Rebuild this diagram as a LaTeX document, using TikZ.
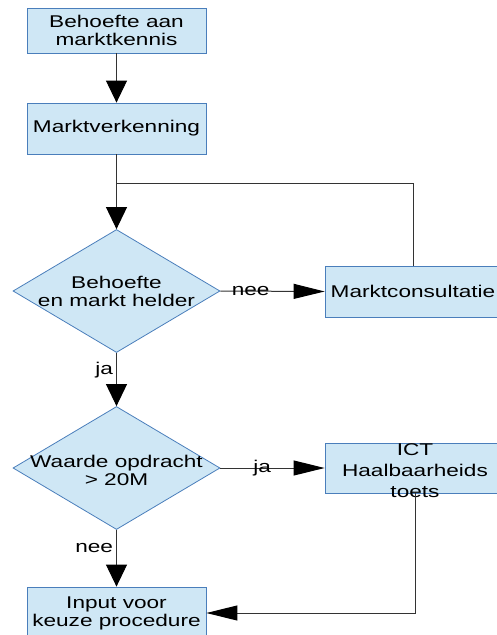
\documentclass[tikz,border=0pt]{standalone}
\usepackage{fontspec}
\setmainfont{Liberation Sans}[FakeStretch=1.33]
\usetikzlibrary{shapes.geometric,arrows.meta}
\definecolor{boxfill}{HTML}{CFE7F5}
\definecolor{boxline}{HTML}{4A7EBB}
\definecolor{wire}{HTML}{333333}

\begin{document}
\begin{tikzpicture}[x=1pt,y=-1pt,font=\fontsize{17}{18}\selectfont]
\tikzstyle{box} = [draw=boxline, fill=boxfill, line width=0.8pt, minimum width=179pt, inner sep=0pt, align=center];
\tikzstyle{choice} = [diamond, draw=boxline, fill=boxfill, line width=0.8pt, minimum width=207pt, minimum height=123pt, inner sep=0pt];
\tikzstyle{conn} = [draw=wire, line width=1pt];
\tikzstyle{varrow} = [conn, -{Triangle[length=22pt,width=21pt,color=black]}];
\tikzstyle{harrow} = [conn, -{Triangle[length=31pt,width=15pt,color=black]}];
\tikzstyle{lbl} = [inner sep=3pt];

\useasboundingbox (0,0) rectangle (497,635);

\node[box, minimum height=45pt] (kennis) at (116.5,30.5) {Behoefte aan\\marktkennis};
\node[box, minimum height=51pt] (verkenning) at (116.5,128.5) {Marktverkenning};
\node[choice, label={[align=center]center:{Behoefte\\en markt helder}}] (helder) at (116.5,291) {};
\node[box, minimum width=176pt, minimum height=51pt] (consult) at (413,291.5) {Marktconsultatie};
\node[choice, label={[align=center, yshift=-2pt]center:{Waarde opdracht\\> 20M}}] (waarde) at (116.5,468) {};
\node[box, minimum width=180pt, minimum height=50pt,
  label={[align=center, font=\fontsize{17}{21}\selectfont, yshift=-3pt]center:{ICT\\Haalbaarheids\\toets}}] (ict) at (415,468) {};
\node[box, minimum height=52pt] (input) at (116.5,613) {Input voor\\keuze procedure};
\coordinate (join) at (116.5,183);

\draw[varrow] (kennis) -- (verkenning);
\draw[varrow] (verkenning) -- (helder);
\draw[conn] (consult.north) |- (join);
\draw[harrow] (helder.east) -- node[lbl, pos=0.29] {nee} (consult.west);
\draw[varrow] (helder.south) -- node[lbl, left, pos=0.33] {ja} (waarde.north);
\draw[harrow] (waarde.east) -- node[lbl, pos=0.40] {ja} (ict.west);
\draw[varrow] (waarde.south) -- node[lbl, left, pos=0.32] {nee} (input.north);
\draw[harrow] (ict.south) |- (input.east);
\end{tikzpicture}
\end{document}
